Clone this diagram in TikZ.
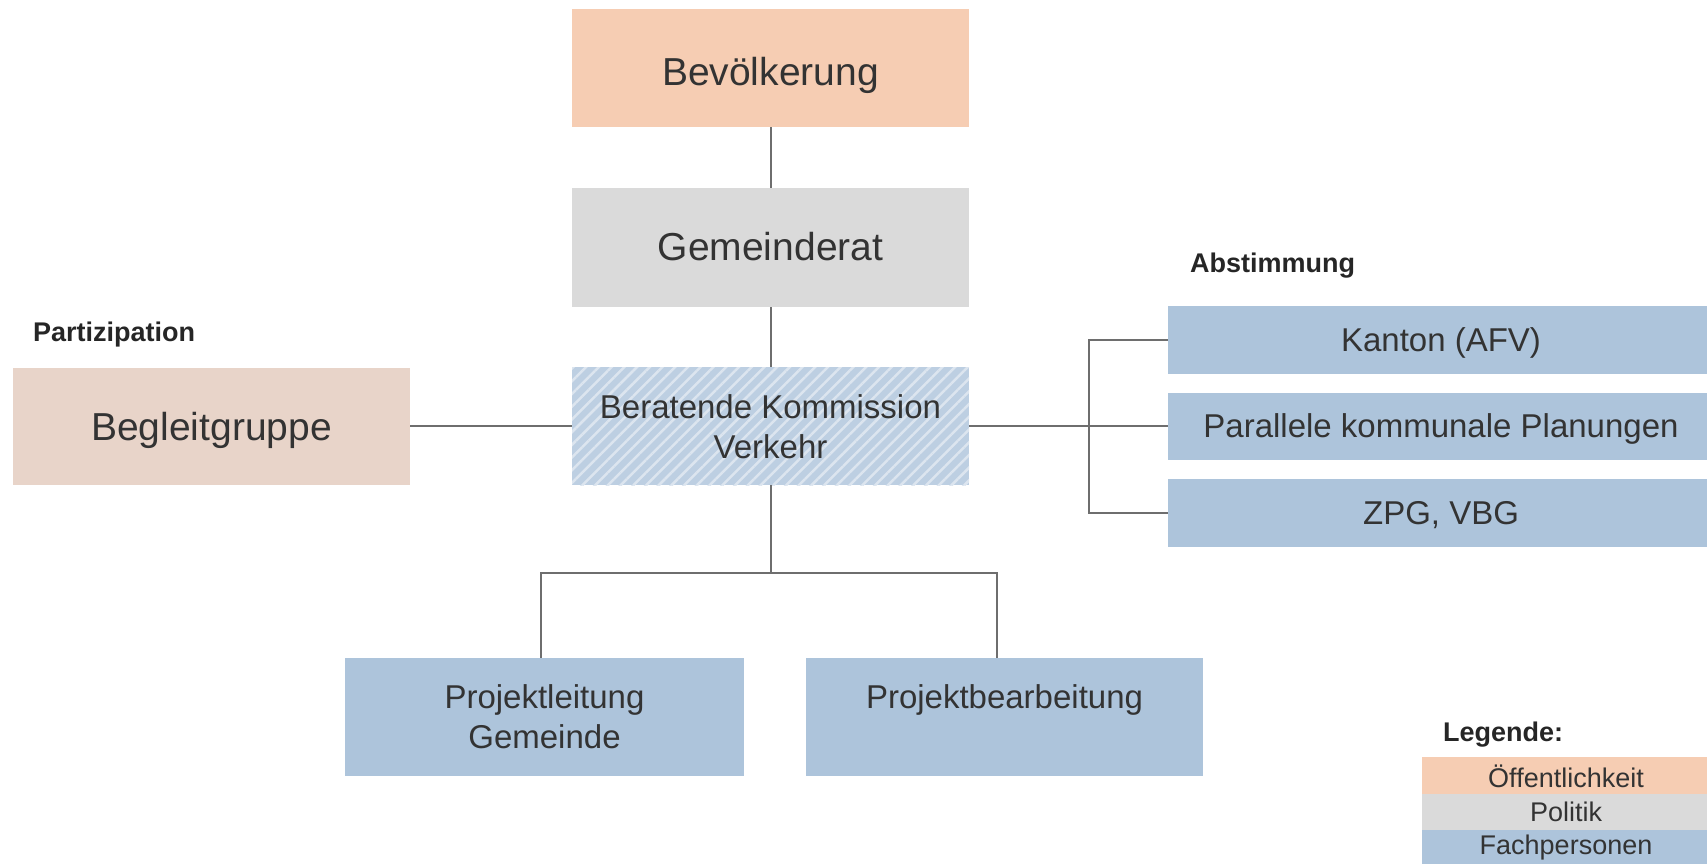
\documentclass[tikz,border=0pt]{standalone}
\usepackage{fontspec}
\setmainfont{Liberation Sans}
\usetikzlibrary{patterns.meta}
\definecolor{peach}{HTML}{F6CDB3}
\definecolor{rose}{HTML}{E8D4C9}
\definecolor{greybox}{HTML}{DADADA}
\definecolor{bluebox}{HTML}{ADC4DB}
\definecolor{hatchbase}{HTML}{BDCFE2}
\definecolor{hatchline}{HTML}{DCE5EF}
\definecolor{linecol}{HTML}{6E6E6E}
\definecolor{txt}{HTML}{333333}
\begin{document}
\begin{tikzpicture}[x=1pt,y=-1pt,
  box/.style={rectangle, draw=none, inner sep=0pt, text=txt, align=center},
  big/.style={font=\fontsize{39}{46}\selectfont, text height=29pt, text depth=4pt},
  mid/.style={font=\fontsize{33}{40}\selectfont},
  side/.style={text height=25pt, text depth=2pt},
  lbl/.style={anchor=west, inner sep=0pt, text=black!85, font=\fontsize{27}{32}\selectfont\bfseries},
  legtxt/.style={inner sep=0pt, text=txt, font=\fontsize{27}{32}\selectfont},
  conn/.style={draw=linecol, line width=2pt}]
\useasboundingbox (0,0) rectangle (1707,864);
\clip (0,0) rectangle (1707,864);

% main column
\node[box, big, text height=36pt, text depth=0pt, fill=peach, minimum width=397pt, minimum height=118pt] (bev) at (770.5,68) {Bevölkerung};
\node[box, big, fill=greybox, minimum width=397pt, minimum height=119pt] (gem) at (770.5,247.5) {Gemeinderat};
\node[box, fill=hatchbase, minimum width=397pt, minimum height=118pt,
  postaction={pattern={Lines[angle=45,distance=9pt,line width=2.5pt]}, pattern color=hatchline}] (ber) at (770.5,426) {};
\node[box, mid, align=center] (bertxt) at (770.5,427) {Beratende Kommission\\Verkehr};

% left
\node[box, big, text depth=0pt, fill=rose, minimum width=397pt, minimum height=117pt] (beg) at (211.5,426) {Begleitgruppe};
\node[lbl] (part) at (33,335) {Partizipation};

% right
\node[lbl] (abst) at (1190,266) {Abstimmung};
\node[box, mid, side, fill=bluebox, minimum width=546pt, minimum height=68pt] (kan) at (1441,340) {Kanton (AFV)};
\node[box, mid, side, fill=bluebox, minimum width=546pt, minimum height=67pt] (par) at (1441,426) {Parallele kommunale Planungen};
\node[box, mid, side, fill=bluebox, minimum width=546pt, minimum height=68pt] (zpg) at (1441,513) {ZPG, VBG};
\coordinate (brk) at (1089,426);

% bottom
\node[box, mid, fill=bluebox, minimum width=399pt, minimum height=118pt] (pl) at (544.5,717) {Projektleitung\\Gemeinde};
\node[box, mid, fill=bluebox, minimum width=397pt, minimum height=118pt] (pb) at (1004.5,717) {Projektbearbeitung\\\mbox{}};
\coordinate (fork) at (770.5,573);
\coordinate (forkL) at (541,573);
\coordinate (forkR) at (997,573);

% connectors
\draw[conn] (bev.south) -- (gem.north);
\draw[conn] (gem.south) -- (ber.north);
\draw[conn] (beg.east) -- (ber.west);
\draw[conn] (ber.east) -- (par.west);
\draw[conn] (kan.west) -| (brk) |- (zpg.west);
\draw[conn] (ber.south) -- (fork);
\draw[conn] (forkL |- pl.north) -- (forkL) -- (forkR) -- (forkR |- pb.north);

% legend
\node[lbl] (leg) at (1443,735) {Legende:};
\node[box, fill=peach, minimum width=307pt, minimum height=37pt, anchor=north west] (lo) at (1422,757) {};
\node[box, fill=greybox, minimum width=307pt, minimum height=36pt, anchor=north west] (lp) at (1422,794) {};
\node[box, fill=bluebox, minimum width=307pt, minimum height=36pt, anchor=north west] (lf) at (1422,830) {};
\node[legtxt] at (1566,776) {Öffentlichkeit};
\node[legtxt] at (1566,812) {Politik};
\node[legtxt] at (1566,848) {Fachpersonen};
\end{tikzpicture}
\end{document}
